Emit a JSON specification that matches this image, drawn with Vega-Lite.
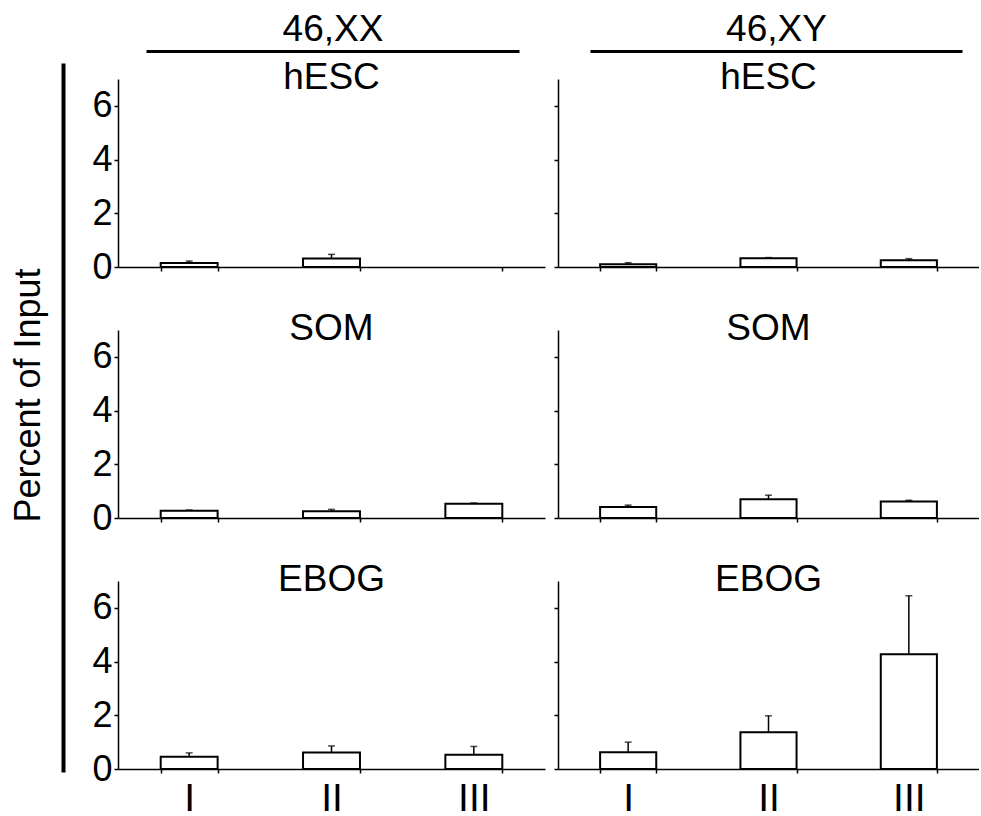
{
  "$schema": "https://vega.github.io/schema/vega-lite/v6.json",
  "padding": {"left": 10, "top": 10, "right": 0, "bottom": 0},
  "data": {"values": [
    {"k":"46,XX","cell":"hESC","cond":"I","value":0.15,"upper":0.22},
    {"k":"46,XX","cell":"hESC","cond":"II","value":0.32,"upper":0.47},
    {"k":"46,XY","cell":"hESC","cond":"I","value":0.1,"upper":0.16},
    {"k":"46,XY","cell":"hESC","cond":"II","value":0.33,"upper":0.35},
    {"k":"46,XY","cell":"hESC","cond":"III","value":0.25,"upper":0.31},
    {"k":"46,XX","cell":"SOM","cond":"I","value":0.27,"upper":0.3},
    {"k":"46,XX","cell":"SOM","cond":"II","value":0.25,"upper":0.32},
    {"k":"46,XX","cell":"SOM","cond":"III","value":0.53,"upper":0.56},
    {"k":"46,XY","cell":"SOM","cond":"I","value":0.41,"upper":0.48},
    {"k":"46,XY","cell":"SOM","cond":"II","value":0.7,"upper":0.85},
    {"k":"46,XY","cell":"SOM","cond":"III","value":0.61,"upper":0.66},
    {"k":"46,XX","cell":"EBOG","cond":"I","value":0.46,"upper":0.6},
    {"k":"46,XX","cell":"EBOG","cond":"II","value":0.61,"upper":0.86},
    {"k":"46,XX","cell":"EBOG","cond":"III","value":0.53,"upper":0.84},
    {"k":"46,XY","cell":"EBOG","cond":"I","value":0.62,"upper":1.0},
    {"k":"46,XY","cell":"EBOG","cond":"II","value":1.37,"upper":1.98},
    {"k":"46,XY","cell":"EBOG","cond":"III","value":4.27,"upper":6.45}
  ]},
  "config": {
    "font": "Liberation Sans",
    "view": {"stroke": null},
    "axis": {"grid": false, "domainColor": "black", "tickColor": "black", "labelColor": "black", "titleColor": "black", "labelFont": "Liberation Sans", "titleFont": "Liberation Sans", "titleFontWeight": "normal", "domainWidth": 1.5, "tickWidth": 1.5},
    "title": {"font": "Liberation Sans", "fontSize": 37, "fontWeight": "normal", "color": "black", "anchor": "middle", "baseline": "alphabetic", "offset": -18}
  },
  "bounds": "flush",
  "spacing": 54,
  "hconcat": [
    {
      "width": 1, "height": 721,
      "mark": {"type": "point", "opacity": 0},
      "encoding": {"y": {"datum": 0.5, "type": "quantitative", "scale": {"domain": [0, 1], "range": [721, 12]},
        "axis": {"title": "Percent of Input", "ticks": false, "labels": false, "domainWidth": 4, "titleFontSize": 36, "titleX": -24, "titleY": 344, "titleBaseline": "alphabetic", "titleAngle": -90}}}
    },
    {
      "bounds": "flush",
      "spacing": 28,
      "vconcat": [
        {
          "bounds": "flush", "spacing": 13,
          "hconcat": [
            {"width": 427, "height": 1, "mark": {"type": "point", "opacity": 0},
             "encoding": {"x": {"datum": 0.5, "type": "quantitative", "scale": {"domain": [0, 1], "range": [28, 401]},
               "axis": {"orient": "top", "title": "46,XX", "ticks": false, "labels": false, "domainWidth": 3, "titleFontSize": 37, "titlePadding": 3}}}},
            {"width": 421, "height": 1, "mark": {"type": "point", "opacity": 0},
             "encoding": {"x": {"datum": 0.5, "type": "quantitative", "scale": {"domain": [0, 1], "range": [32, 404]},
               "axis": {"orient": "top", "title": "46,XY", "ticks": false, "labels": false, "domainWidth": 3, "titleFontSize": 37, "titlePadding": 3}}}}
          ]
        },
        {
          "bounds": "flush", "columns": 2, "spacing": {"row": 63, "column": 13},
          "concat": [
              {"width": 427, "height": 188, "title": "hESC",
               "transform": [{"filter": "datum.k == '46,XX' && datum.cell == 'hESC'"}],
               "encoding": {"x": {"field": "cond", "type": "nominal", "scale": {"domain": ["I","II","III"], "paddingInner": 0.6, "paddingOuter": 0.3},
                 "axis": {"title": null, "tickBand": "extent", "tickSize": 4, "labels": false}}},
               "layer": [
                 {"mark": {"type": "bar", "fill": "white", "stroke": "black", "strokeWidth": 2},
                  "encoding": {"y": {"field": "value", "type": "quantitative", "scale": {"domain": [0, 7]},
                    "axis": {"title": null, "values": [0,1,2,3,4,5,6,7], "labelExpr": "datum.value % 2 == 0 ? datum.label : ''", "tickSize": 4, "labelFontSize": 36, "labelPadding": 2}}}},
                 {"mark": {"type": "rule", "color": "black", "strokeWidth": 1.5}, "encoding": {"y": {"field": "value", "type": "quantitative"}, "y2": {"field": "upper"}}},
                 {"mark": {"type": "tick", "color": "black", "size": 7, "thickness": 1.5}, "encoding": {"y": {"field": "upper", "type": "quantitative"}}}
               ]},
              {"width": 421, "height": 188, "title": "hESC",
               "transform": [{"filter": "datum.k == '46,XY' && datum.cell == 'hESC'"}],
               "encoding": {"x": {"field": "cond", "type": "nominal", "scale": {"domain": ["I","II","III"], "paddingInner": 0.6, "paddingOuter": 0.3},
                 "axis": {"title": null, "tickBand": "extent", "tickSize": 4, "labels": false}}},
               "layer": [
                 {"mark": {"type": "bar", "fill": "white", "stroke": "black", "strokeWidth": 2},
                  "encoding": {"y": {"field": "value", "type": "quantitative", "scale": {"domain": [0, 7]},
                    "axis": {"title": null, "values": [0,1,2,3,4,5,6,7], "labels": false, "tickSize": 4}}}},
                 {"mark": {"type": "rule", "color": "black", "strokeWidth": 1.5}, "encoding": {"y": {"field": "value", "type": "quantitative"}, "y2": {"field": "upper"}}},
                 {"mark": {"type": "tick", "color": "black", "size": 7, "thickness": 1.5}, "encoding": {"y": {"field": "upper", "type": "quantitative"}}}
               ]},
              {"width": 427, "height": 188, "title": "SOM",
               "transform": [{"filter": "datum.k == '46,XX' && datum.cell == 'SOM'"}],
               "encoding": {"x": {"field": "cond", "type": "nominal", "scale": {"domain": ["I","II","III"], "paddingInner": 0.6, "paddingOuter": 0.3},
                 "axis": {"title": null, "tickBand": "extent", "tickSize": 4, "labels": false}}},
               "layer": [
                 {"mark": {"type": "bar", "fill": "white", "stroke": "black", "strokeWidth": 2},
                  "encoding": {"y": {"field": "value", "type": "quantitative", "scale": {"domain": [0, 7]},
                    "axis": {"title": null, "values": [0,1,2,3,4,5,6,7], "labelExpr": "datum.value % 2 == 0 ? datum.label : ''", "tickSize": 4, "labelFontSize": 36, "labelPadding": 2}}}},
                 {"mark": {"type": "rule", "color": "black", "strokeWidth": 1.5}, "encoding": {"y": {"field": "value", "type": "quantitative"}, "y2": {"field": "upper"}}},
                 {"mark": {"type": "tick", "color": "black", "size": 7, "thickness": 1.5}, "encoding": {"y": {"field": "upper", "type": "quantitative"}}}
               ]},
              {"width": 421, "height": 188, "title": "SOM",
               "transform": [{"filter": "datum.k == '46,XY' && datum.cell == 'SOM'"}],
               "encoding": {"x": {"field": "cond", "type": "nominal", "scale": {"domain": ["I","II","III"], "paddingInner": 0.6, "paddingOuter": 0.3},
                 "axis": {"title": null, "tickBand": "extent", "tickSize": 4, "labels": false}}},
               "layer": [
                 {"mark": {"type": "bar", "fill": "white", "stroke": "black", "strokeWidth": 2},
                  "encoding": {"y": {"field": "value", "type": "quantitative", "scale": {"domain": [0, 7]},
                    "axis": {"title": null, "values": [0,1,2,3,4,5,6,7], "labels": false, "tickSize": 4}}}},
                 {"mark": {"type": "rule", "color": "black", "strokeWidth": 1.5}, "encoding": {"y": {"field": "value", "type": "quantitative"}, "y2": {"field": "upper"}}},
                 {"mark": {"type": "tick", "color": "black", "size": 7, "thickness": 1.5}, "encoding": {"y": {"field": "upper", "type": "quantitative"}}}
               ]},
              {"width": 427, "height": 188, "title": "EBOG",
               "transform": [{"filter": "datum.k == '46,XX' && datum.cell == 'EBOG'"}],
               "encoding": {"x": {"field": "cond", "type": "nominal", "scale": {"domain": ["I","II","III"], "paddingInner": 0.6, "paddingOuter": 0.3},
                 "axis": {"title": null, "tickBand": "extent", "tickSize": 4, "labels": true, "labelAngle": 0, "labelFontSize": 39, "labelPadding": 6}}},
               "layer": [
                 {"mark": {"type": "bar", "fill": "white", "stroke": "black", "strokeWidth": 2},
                  "encoding": {"y": {"field": "value", "type": "quantitative", "scale": {"domain": [0, 7]},
                    "axis": {"title": null, "values": [0,1,2,3,4,5,6,7], "labelExpr": "datum.value % 2 == 0 ? datum.label : ''", "tickSize": 4, "labelFontSize": 36, "labelPadding": 2}}}},
                 {"mark": {"type": "rule", "color": "black", "strokeWidth": 1.5}, "encoding": {"y": {"field": "value", "type": "quantitative"}, "y2": {"field": "upper"}}},
                 {"mark": {"type": "tick", "color": "black", "size": 7, "thickness": 1.5}, "encoding": {"y": {"field": "upper", "type": "quantitative"}}}
               ]},
              {"width": 421, "height": 188, "title": "EBOG",
               "transform": [{"filter": "datum.k == '46,XY' && datum.cell == 'EBOG'"}],
               "encoding": {"x": {"field": "cond", "type": "nominal", "scale": {"domain": ["I","II","III"], "paddingInner": 0.6, "paddingOuter": 0.3},
                 "axis": {"title": null, "tickBand": "extent", "tickSize": 4, "labels": true, "labelAngle": 0, "labelFontSize": 39, "labelPadding": 6}}},
               "layer": [
                 {"mark": {"type": "bar", "fill": "white", "stroke": "black", "strokeWidth": 2},
                  "encoding": {"y": {"field": "value", "type": "quantitative", "scale": {"domain": [0, 7]},
                    "axis": {"title": null, "values": [0,1,2,3,4,5,6,7], "labels": false, "tickSize": 4}}}},
                 {"mark": {"type": "rule", "color": "black", "strokeWidth": 1.5}, "encoding": {"y": {"field": "value", "type": "quantitative"}, "y2": {"field": "upper"}}},
                 {"mark": {"type": "tick", "color": "black", "size": 7, "thickness": 1.5}, "encoding": {"y": {"field": "upper", "type": "quantitative"}}}
               ]}
          ]
        }
      ]
    }
  ]
}
